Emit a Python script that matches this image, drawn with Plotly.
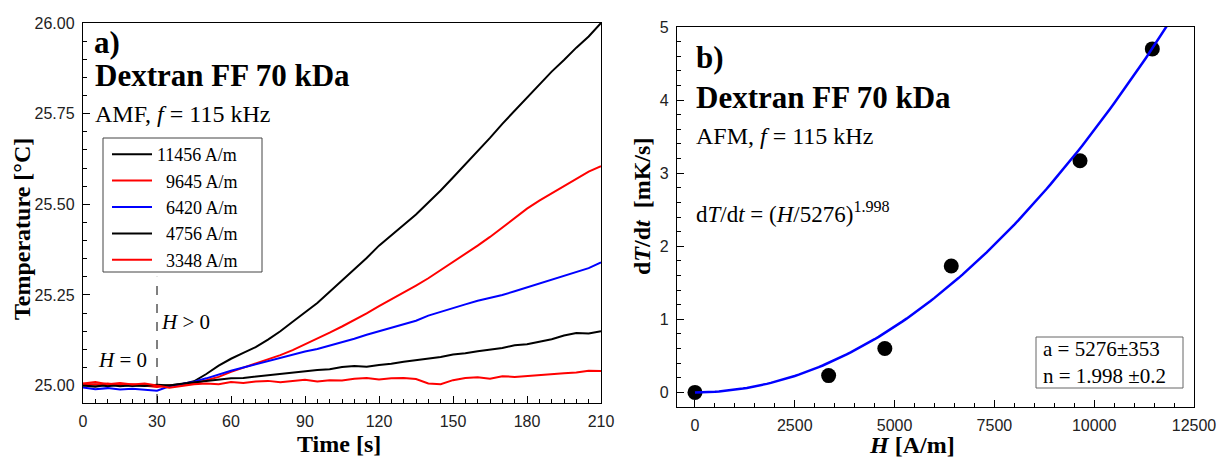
import plotly.graph_objects as go

W, H = 1217, 460

# ---------------- data ----------------
time_s = [0, 5, 10, 15, 20, 25, 30, 35, 40, 45, 50, 55, 60, 65, 70, 75, 80, 85, 90, 95,
          100, 105, 110, 115, 120, 125, 130, 135, 140, 145, 150, 155, 160, 165, 170, 175,
          180, 185, 190, 195, 200, 205, 210]

T_11456 = [25.000, 25.003, 24.998, 25.002, 24.999, 25.001, 24.998, 25.002, 25.004, 25.012,
           25.032, 25.055, 25.074, 25.090, 25.106, 25.127, 25.150, 25.176, 25.201, 25.228,
           25.259, 25.290, 25.322, 25.352, 25.386, 25.414, 25.442, 25.472, 25.505, 25.538,
           25.574, 25.610, 25.645, 25.683, 25.722, 25.758, 25.796, 25.830, 25.866, 25.898,
           25.932, 25.963, 26.000]
T_9645 = [25.005, 25.003, 25.006, 25.002, 25.004, 25.000, 24.996, 25.000, 25.002, 25.006,
          25.015, 25.024, 25.038, 25.049, 25.060, 25.071, 25.084, 25.098, 25.114, 25.128,
          25.146, 25.163, 25.180, 25.199, 25.219, 25.238, 25.255, 25.276, 25.296, 25.318,
          25.340, 25.364, 25.386, 25.410, 25.436, 25.462, 25.488, 25.510, 25.530, 25.552,
          25.570, 25.590, 25.605]
T_6420 = [24.995, 24.990, 24.993, 24.989, 24.991, 24.988, 24.986, 24.998, 25.004, 25.011,
          25.020, 25.031, 25.041, 25.050, 25.059, 25.068, 25.075, 25.085, 25.094, 25.101,
          25.110, 25.120, 25.129, 25.140, 25.150, 25.158, 25.170, 25.179, 25.193, 25.204,
          25.214, 25.224, 25.234, 25.241, 25.250, 25.260, 25.271, 25.280, 25.291, 25.303,
          25.314, 25.324, 25.340]
T_4756 = [25.000, 24.997, 25.002, 24.998, 25.001, 24.999, 25.002, 25.000, 25.005, 25.009,
          25.012, 25.016, 25.020, 25.021, 25.025, 25.029, 25.031, 25.035, 25.039, 25.043,
          25.045, 25.051, 25.054, 25.052, 25.057, 25.060, 25.066, 25.070, 25.076, 25.079,
          25.086, 25.089, 25.095, 25.099, 25.104, 25.111, 25.114, 25.121, 25.128, 25.138,
          25.145, 25.144, 25.150]
T_3348 = [25.006, 25.010, 25.004, 25.007, 25.003, 25.006, 25.000, 24.994, 24.999, 25.004,
          25.006, 25.004, 25.010, 25.007, 25.011, 25.013, 25.009, 25.012, 25.016, 25.011,
          25.015, 25.014, 25.019, 25.021, 25.017, 25.020, 25.021, 25.018, 25.006, 25.004,
          25.015, 25.021, 25.023, 25.019, 25.026, 25.024, 25.027, 25.030, 25.033, 25.034,
          25.036, 25.041, 25.040]

series_names = ["11456 A/m", "\u20079645 A/m", "\u20076420 A/m", "\u20074756 A/m", "\u20073348 A/m"]
series_values = [T_11456, T_9645, T_6420, T_4756, T_3348]
series_colors = ["#000000", "#ff0000", "#0000ff", "#000000", "#ff0000"]

H_field = [0, 3348, 4756, 6420, 9645, 11456]
dTdt = [0.0, 0.23, 0.60, 1.73, 3.17, 4.70]

fit_a = 5276
fit_n = 1.998
H_fit = [h * 100 for h in range(0, 121)]
dTdt_fit = [(h / fit_a) ** fit_n for h in H_fit]

# --------------- helpers ---------------
def px(x):
    return x / W

def py(y):
    return 1 - y / H

SERIF = "Liberation Serif, Times New Roman, serif"
SANS = "Liberation Sans, Arial, sans-serif"

X1_RANGE = [0, 210]
Y1_RANGE = [24.952, 26.0]
X2_RANGE = [-450, 12500]
Y2_RANGE = [-0.2, 5]

fig = go.Figure()

for name, vals, col in zip(series_names, series_values, series_colors):
    fig.add_trace(go.Scatter(x=time_s, y=vals, mode="lines", name=name,
                             line=dict(color=col, width=2),
                             xaxis="x", yaxis="y"))

fig.add_trace(go.Scatter(x=H_field, y=dTdt, mode="markers", showlegend=False,
                         marker=dict(color="black", size=15),
                         cliponaxis=False, xaxis="x2", yaxis="y2"))
fig.add_trace(go.Scatter(x=H_fit, y=dTdt_fit, mode="lines", showlegend=False,
                         line=dict(color="#0000ff", width=2.5),
                         xaxis="x2", yaxis="y2"))

# invisible anchors so that the minor-tick overlay axes are drawn
fig.add_trace(go.Scatter(x=[X1_RANGE[0]], y=[Y1_RANGE[0]], mode="markers",
                         marker=dict(opacity=0), showlegend=False, hoverinfo="skip",
                         xaxis="x3", yaxis="y3"))
fig.add_trace(go.Scatter(x=[X2_RANGE[0]], y=[Y2_RANGE[0]], mode="markers",
                         marker=dict(opacity=0), showlegend=False, hoverinfo="skip",
                         xaxis="x4", yaxis="y4"))

axis_common = dict(
    showgrid=False, zeroline=False, showline=True, linecolor="black", linewidth=1.4,
    mirror=True, ticks="inside", ticklen=7, tickwidth=1.4, tickcolor="black",
    tickfont=dict(family=SANS, size=16, color="#222"),
    ticklabelstandoff=4, automargin=False,
)
minor_axis = dict(
    showgrid=False, zeroline=False, showline=False, showticklabels=False,
    ticks="inside", ticklen=4, tickwidth=1.3, tickcolor="black", automargin=False,
)

fig.update_layout(
    width=W, height=H,
    margin=dict(l=0, r=0, t=0, b=0),
    paper_bgcolor="white", plot_bgcolor="white",
    xaxis=dict(domain=[px(83), px(601)], anchor="y", range=X1_RANGE,
               tick0=0, dtick=30, **axis_common),
    yaxis=dict(domain=[py(403), py(23)], anchor="x", range=Y1_RANGE,
               tick0=25, dtick=0.25, tickformat=".2f", **axis_common),
    xaxis2=dict(domain=[px(677), px(1194)], anchor="y2", range=X2_RANGE,
                tick0=0, dtick=2500, tickformat="d", **axis_common),
    yaxis2=dict(domain=[py(407), py(27)], anchor="x2", range=Y2_RANGE,
                tick0=0, dtick=1, **axis_common),
    # minor ticks
    xaxis3=dict(overlaying="x", anchor="y", side="bottom", range=X1_RANGE,
                tick0=0, dtick=5, **minor_axis),
    yaxis3=dict(overlaying="y", anchor="x", side="left", range=Y1_RANGE,
                tick0=25, dtick=0.05, **minor_axis),
    xaxis4=dict(overlaying="x2", anchor="y2", side="bottom", range=X2_RANGE,
                tick0=0, dtick=500, **minor_axis),
    yaxis4=dict(overlaying="y2", anchor="x2", side="left", range=Y2_RANGE,
                tick0=0, dtick=0.2, **minor_axis),
    legend=dict(x=px(107), y=py(136), xanchor="left", yanchor="top",
                borderwidth=0, bgcolor="rgba(0,0,0,0)",
                font=dict(family=SERIF, size=18, color="black"),
                itemwidth=40, tracegroupgap=0),
    showlegend=True,
)

# legend frame
fig.add_shape(type="rect", xref="paper", yref="paper",
              x0=px(103), x1=px(262), y0=py(272), y1=py(138),
              line=dict(color="#444", width=1), layer="below")
# H switched on
fig.add_shape(type="line", xref="x", yref="y", x0=30, x1=30, y0=Y1_RANGE[0], y1=25.30,
              line=dict(color="black", width=1, dash="dash"))
# fit-parameter frame
fig.add_shape(type="rect", xref="paper", yref="paper",
              x0=px(1036), x1=px(1183), y0=py(388), y1=py(337),
              line=dict(color="#666", width=1), fillcolor="white", layer="below")

annots = [
    # panel a
    dict(x=92, y=42, text="<b>a)</b>", size=31, xanchor="left"),
    dict(x=93, y=76, text="<b>Dextran FF 70 kDa</b>", size=31, xanchor="left"),
    dict(x=93, y=114, text="AMF, <i>f</i> = 115 kHz", size=24, xanchor="left"),
    dict(x=96, y=360, text="<i>H</i> = 0", size=21, xanchor="left"),
    dict(x=159, y=322, text="<i>H</i> &gt; 0", size=21, xanchor="left"),
    # panel b
    dict(x=694, y=57, text="<b>b)</b>", size=31, xanchor="left"),
    dict(x=694, y=97, text="<b>Dextran FF 70 kDa</b>", size=31, xanchor="left"),
    dict(x=694, y=136, text="AFM, <i>f</i> = 115 kHz", size=24, xanchor="left"),
    dict(x=694, y=212,
         text="d<i>T</i>/d<i>t</i> = (<i>H</i>/5276)<sup>1.998</sup>", size=23, xanchor="left"),
    # axis titles
    dict(x=339, y=444, text="<b>Time [s]</b>", size=24, xanchor="center"),
    dict(x=912, y=445, text="<b><i>H</i> [A/m]</b>", size=24, xanchor="center"),
    dict(x=22, y=229, text="<b>Temperature [°C]</b>", size=24, xanchor="center",
         textangle=-90),
    dict(x=642, y=207, text="<b>d<i>T</i>/d<i>t</i>  [mK/s]</b>", size=24,
         xanchor="center", textangle=-90),
]
for a in annots:
    fig.add_annotation(x=px(a["x"]), y=py(a["y"]), xref="paper", yref="paper", text=a["text"],
                       showarrow=False, xanchor=a["xanchor"], yanchor="middle",
                       textangle=a.get("textangle", 0),
                       font=dict(family=SERIF, size=a["size"], color="black"))

# fit parameters (inside the frame)
fig.add_annotation(x=px(1041), y=py(362), xref="paper", yref="paper",
                   text="a = 5276±353<br>n = 1.998 ±0.2", showarrow=False,
                   xanchor="left", yanchor="middle", align="left",
                   font=dict(family=SERIF, size=21, color="black"))

fig.write_html("out.html")
